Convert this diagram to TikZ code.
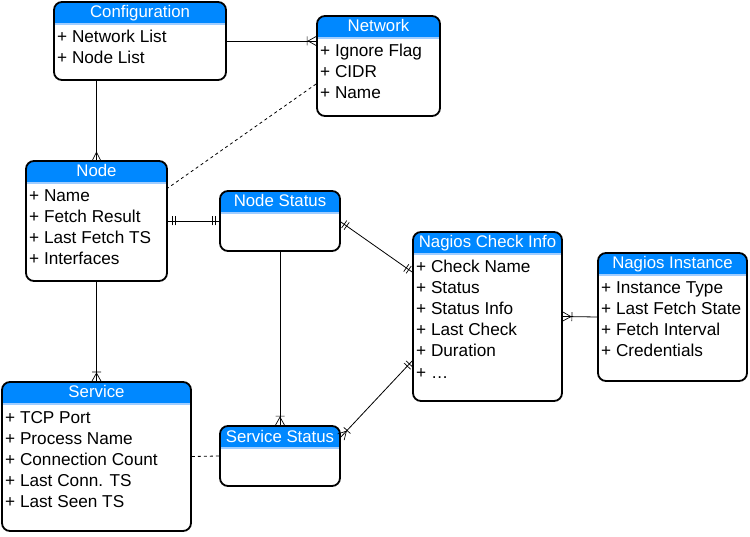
\documentclass[tikz,border=0pt]{standalone}
\usepackage{fontspec}
\setmainfont{Liberation Sans}
\usetikzlibrary{calc,decorations.markings}
\definecolor{hdrblue}{RGB}{0,136,255}
\definecolor{hdrline}{RGB}{160,205,255}
\tikzset{
  erframe/.style={draw=black, line width=1.8pt, rounded corners=8pt, inner sep=0pt, fill=none},
  ertitle/.style={text=white, inner sep=0pt, font=\fontsize{16.8}{19}\selectfont, anchor=base},
  eritem/.style={text=black, inner sep=0pt, font=\fontsize{17.2}{21}\selectfont, anchor=base west},
  rel/.style={line width=0.8pt, draw=black},
  reldash/.style={line width=0.8pt, draw=black, dash pattern=on 3pt off 3pt},
  mkcrowE/.style={postaction={decorate, decoration={markings, mark=at position 1 with {\draw[line width=0.7pt] (-8pt,0pt) -- (0pt,4pt) (-8pt,0pt) -- (0pt,-4pt);}}}},
  mkbarcrowE/.style={postaction={decorate, decoration={markings, mark=at position 1 with {\draw[line width=0.7pt] (-8pt,0pt) -- (0pt,4.5pt) (-8pt,0pt) -- (0pt,-4.5pt) (-9pt,-4.5pt) -- (-9pt,4.5pt);}}}},
  mkbarcrowS/.style={postaction={decorate, decoration={markings, mark=at position 0 with {\draw[line width=0.7pt] (8pt,0pt) -- (0pt,4.5pt) (8pt,0pt) -- (0pt,-4.5pt) (9pt,-4.5pt) -- (9pt,4.5pt);}}}},
  mkbarsE/.style={postaction={decorate, decoration={markings, mark=at position 1 with {\draw[line width=0.7pt] (-4pt,-4.5pt) -- (-4pt,4.5pt) (-7pt,-4.5pt) -- (-7pt,4.5pt);}}}},
  mkbarsS/.style={postaction={decorate, decoration={markings, mark=at position 0 with {\draw[line width=0.7pt] (4pt,-4.5pt) -- (4pt,4.5pt) (7pt,-4.5pt) -- (7pt,4.5pt);}}}},
}
% #1 name, #2 left, #3 top, #4 right, #5 bottom, #6 title, #7 items
\newcommand{\erbox}[7]{%
  \fill[white, rounded corners=8pt] (#2,#3) rectangle (#4,#5);
  \begin{scope}
    \clip[rounded corners=8pt] (#2,#3) rectangle (#4,#5);
    \fill[hdrblue] (#2,#3) rectangle (#4,{#3+21});
    \fill[hdrline] (#2,{#3+21}) rectangle (#4,{#3+23});
  \end{scope}
  \node[erframe, minimum width={(#4-#2)*1pt}, minimum height={(#5-#3)*1pt}] (#1) at ({(#2+#4)/2},{(#3+#5)/2}) {};
  \node[ertitle] (#1-title) at ({(#2+#4)/2},{#3+16}) {#6};
  \foreach \itm [count=\k] in {#7} {
    \node[eritem] (#1-item\k) at ({#2+3},{#3+41+(\k-1)*21}) {\itm};
  }
}
\begin{document}
\begin{tikzpicture}[x=1pt,y=-1pt]
\useasboundingbox (0,0) rectangle (750,537);
\fill[white] (0,0) rectangle (750,537);

\erbox{cfg}{54}{2}{226}{80}{Configuration}{+ Network List,+ Node List}
\erbox{net}{317}{16}{440}{116}{Network}{+ Ignore Flag,+ CIDR,+ Name}
\erbox{nod}{26}{161}{167}{281}{Node}{+ Name,+ Fetch Result,+ Last Fetch TS,+ Interfaces}
\erbox{ns}{220}{191}{340}{251}{Node Status}{}
\erbox{ci}{413}{232}{562}{401}{Nagios Check Info}{+ Check Name,+ Status,+ Status Info,+ Last Check,+ Duration,+ \ldots}
\erbox{inst}{598}{253}{747}{381}{Nagios Instance}{+ Instance Type,+ Last Fetch State,+ Fetch Interval,+ Credentials}
\erbox{svc}{2}{382}{191}{531}{Service}{+ TCP Port,+ Process Name,+ Connection Count,+ Last Conn. TS,+ Last Seen TS}
\erbox{ss}{220}{426}{340}{486}{Service Status}{}

\draw[rel, mkcrowE] (cfg.south -| nod.north) -- (nod.north);
\draw[rel, mkbarcrowE] (cfg.east) -- (cfg.east -| net.west);
\draw[reldash] ($(net.west)+(0,18)$) -- ($(nod.east)+(0,-33)$);
\draw[rel, mkbarsS, mkbarsE] (nod.east) -- (ns.west);
\draw[rel, mkbarsS, mkbarsE] ($(ns.east)+(0,1)$) -- ($(ci.west)+(0,-44.5)$);
\draw[rel, mkbarcrowE] (ns.south) -- (ss.north);
\draw[rel, mkbarcrowE] (nod.south) -- (svc.north);
\draw[reldash] (svc.east) -- (ss.west);
\draw[rel, mkbarcrowS, mkbarsE] ($(ss.east)+(0,-19)$) -- ($(ci.west)+(0,44.5)$);
\draw[rel, mkbarcrowS] (ci.east) -- (inst.west);
\end{tikzpicture}
\end{document}
